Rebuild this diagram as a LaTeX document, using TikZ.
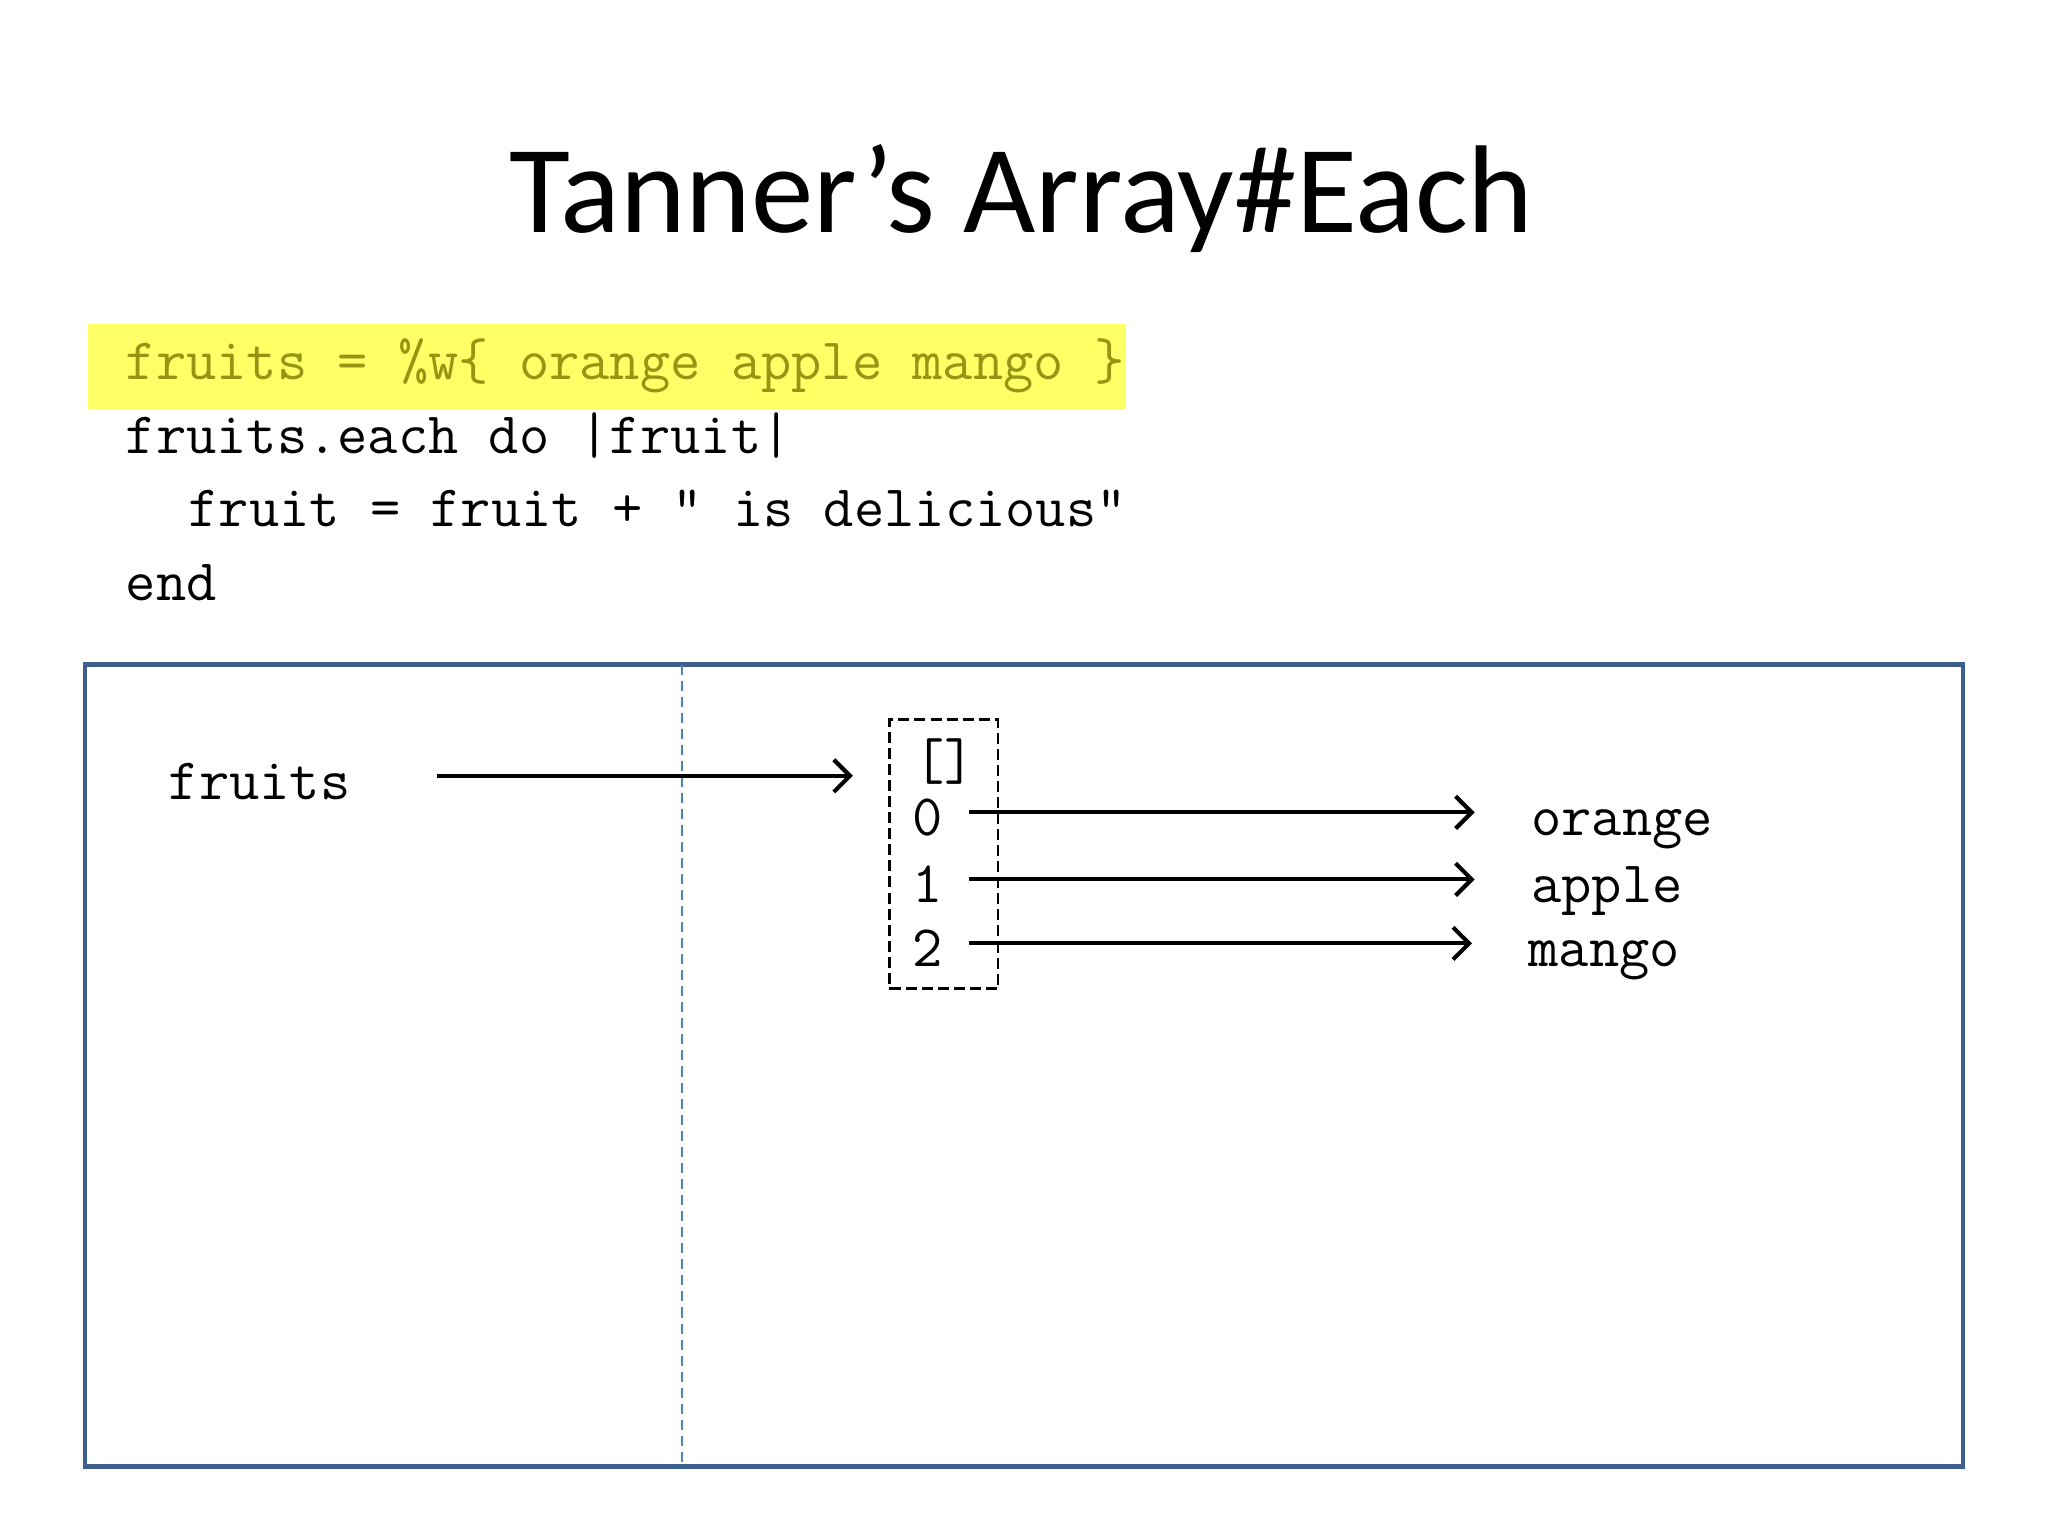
\documentclass[tikz,border=0pt]{standalone}
\usepackage{fontspec}
\setmainfont{Carlito}
\usepackage{tikz}
\usetikzlibrary{positioning,arrows.meta}
\definecolor{hiyellow}{RGB}{255,255,102}
\definecolor{hiolive}{RGB}{150,150,20}
\definecolor{frameblue}{RGB}{60,95,140}
\definecolor{splitblue}{RGB}{79,129,189}
\tikzset{every picture/.style={line width=0.75pt}}
\tikzset{
  code/.style={font=\ttfamily\fontsize{12.8}{15}\selectfont, anchor=base west, inner sep=0pt},
  lbl/.style={font=\ttfamily\fontsize{12.8}{15}\selectfont, inner sep=0pt, text height=3.6mm, text depth=0pt, anchor=west},
  ptr/.style={-{Straight Barb[length=3.5pt,width=7pt]}, line width=0.9pt},
}

\begin{document}
\begin{tikzpicture}
\useasboundingbox (0,0) rectangle (15.68,11.76);
\node[font=\fontsize{27.2}{32}\selectfont, anchor=base] (title) at (7.82,9.98) {Tanner’s Array\#Each};
%
\fill[hiyellow] (0.67,8.63) rectangle (8.62,9.28);
\node[code, text=hiolive] (line1) at (0.95,8.854) {fruits = \%w\{ orange apple mango \}};
\node[code] (line2) at (0.95,8.29) {fruits.each do |fruit|};
\node[code] (line3) at (1.43,7.73) {fruit = fruit + " is delicious"};
\node[code] (line4) at (0.95,7.16) {end};
%
\draw[frameblue, line width=1pt] (0.65,0.53) rectangle (15.03,6.67);
\draw[splitblue, line width=0.4pt, dash pattern=on 2.2pt off 1.3pt] (5.22,6.67) -- (5.22,0.53);
%
\node[lbl] (fruits) at (1.28,5.82) {fruits};
\node[draw, dash pattern=on 2.4pt off 1.1pt, line width=0.6pt, minimum width=0.83cm, minimum height=2.06cm, inner sep=0pt] (arr) at (7.225,5.22) {};
\node[lbl] (brk) at (6.99,5.97) {[]};
\node[lbl] (i0) at (6.97,5.54) {0};
\node[lbl] (i1) at (6.97,5.027) {1};
\node[lbl] (i2) at (6.97,4.537) {2};
\node[lbl] (orange) at (11.71,5.54) {orange};
\node[lbl] (apple) at (11.71,5.027) {apple};
\node[lbl] (mango) at (11.69,4.537) {mango};
%
\draw[ptr, shorten <=6.5mm, shorten >=2.7mm] (fruits.east) -- (fruits.east -| arr.west);
\draw[ptr, shorten <=1.9mm, shorten >=4.2mm] (i0) -- (orange);
\draw[ptr, shorten <=1.9mm, shorten >=4.2mm] (i1) -- (apple);
\draw[ptr, shorten <=1.9mm, shorten >=4.2mm] (i2) -- (mango);
\end{tikzpicture}
\end{document}
